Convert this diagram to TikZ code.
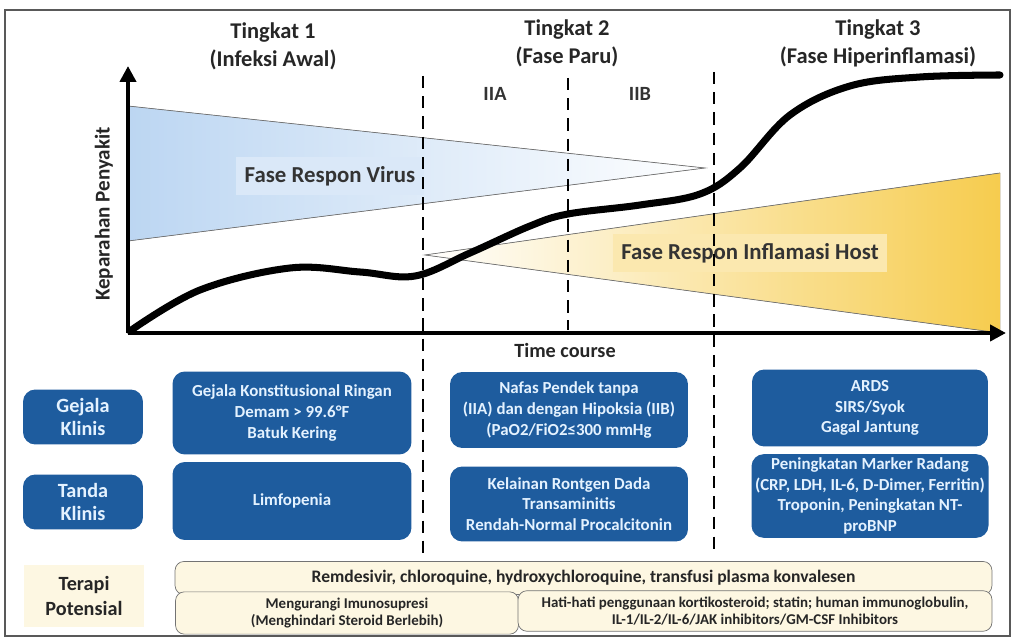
\documentclass[tikz,border=0pt]{standalone}
\usepackage{fontspec}
\setmainfont{Carlito}
\usetikzlibrary{arrows.meta,positioning,calc}
\definecolor{boxblue}{RGB}{30,92,158}
\definecolor{boxtext}{RGB}{228,242,255}
\definecolor{cream}{RGB}{253,247,226}
\definecolor{virusblue}{RGB}{188,214,242}
\definecolor{hostgold}{RGB}{246,204,78}

\begin{document}
\begin{tikzpicture}[
    x=0.02cm, y=-0.02cm,
    title/.style={font=\bfseries\fontsize{12.8}{16}\selectfont, align=center, text=black!85},
    clinic/.style={rectangle, rounded corners=7pt, fill=boxblue, text=boxtext, inner sep=2pt,
                   font=\bfseries\fontsize{9.6}{11.8}\selectfont, align=center},
    rowlabel/.style={clinic, font=\bfseries\fontsize{11.5}{13.5}\selectfont,
                     minimum width=2.4cm, minimum height=1.1cm},
    therapy/.style={rectangle, rounded corners=5pt, draw=black!55, fill=cream,
                    font=\bfseries\fontsize{10}{11}\selectfont, align=center, text=black!85},
    divider/.style={line width=1.1pt, dash pattern=on 7pt off 4.5pt},
    axis/.style={line width=2.8pt, -{Triangle[length=9pt,width=9pt]}},
    phase/.style={font=\bfseries\fontsize{13}{15}\selectfont, text=black!80, inner sep=5pt}
]
    \useasboundingbox (0,0) rectangle (1015,641);
    % Frame
    \draw[black!65, line width=0.8pt] (5,10) rectangle (1010,636);

    % Stages
    \node[title] (stage1) at (273,46) {Tingkat 1\\(Infeksi Awal)};
    \node[title] (stage2) at (567,43) {Tingkat 2\\(Fase Paru)};
    \node[title] (stage3) at (878,43) {Tingkat 3\\(Fase Hiperinflamasi)};
    \node[phase, font=\bfseries\fontsize{11.5}{13}\selectfont] (iia) at (495,94) {IIA};
    \node[phase, font=\bfseries\fontsize{11.5}{13}\selectfont] (iib) at (640,94) {IIB};

    % Phase wedges
    \fill[left color=virusblue, right color=white] (128,106) -- (705,168) -- (128,241) -- cycle;
    \draw[black!55, line width=0.4pt] (128,106) -- (705,168) -- (128,241);
    \fill[left color=white, middle color=hostgold!40, right color=hostgold] (425,255) -- (1000,173) -- (1000,333) -- cycle;
    \draw[black!55, line width=0.4pt] (1000,173) -- (425,255) -- (1000,333);
    \node[phase, fill=virusblue!55] (virus) at (330,176) {Fase Respon Virus};
    \node[phase, fill=hostgold!45] (host) at (750,253) {Fase Respon Inflamasi Host};

    % Dividers
    \draw[divider] (423,76) -- (423,555);
    \draw[divider] (568,78) -- (568,330);
    \draw[divider] (714,72) -- (714,555);

    % Severity curve
    \draw[line width=4pt, line cap=round] plot[smooth, tension=0.6] coordinates {
        (130,331) (200,290) (290,268) (360,272) (415,276) (470,253) (530,226)
        (568,214) (640,205) (700,194) (740,168) (790,115) (850,86) (920,77) (1000,75)};

    % Axes
    \coordinate (origin) at (128,333);
    \draw[axis] (origin) -- (128,66);
    \draw[axis] (origin) -- (1006,333);
    \node[font=\bfseries\fontsize{12}{14}\selectfont, text=black!85, rotate=90] (ylab) at (104,214) {Keparahan Penyakit};
    \node[font=\bfseries\fontsize{11.5}{13}\selectfont, text=black!85] (xlab) at (565,350) {Time course};

    % Clinical rows
    \node[rowlabel] (gejala) at (83,417) {Gejala\\Klinis};
    \node[rowlabel] (tanda) at (83,502) {Tanda\\Klinis};
    \node[clinic, minimum width=4.78cm, minimum height=1.66cm] (g1) at (292,413)
        {Gejala Konstitusional Ringan\\Demam > 99.6°F\\Batuk Kering};
    \node[clinic, minimum width=4.76cm, minimum height=1.52cm] (g2) at (569,410)
        {Nafas Pendek tanpa\\(IIA) dan dengan Hipoksia (IIB)\\(PaO2/FiO2≤300 mmHg};
    \node[clinic, minimum width=4.72cm, minimum height=1.54cm] (g3) at (870,408)
        {ARDS\\SIRS/Syok\\Gagal Jantung};
    \node[clinic, minimum width=4.78cm, minimum height=1.56cm] (t1) at (292,501)
        {Limfopenia};
    \node[clinic, minimum width=4.76cm, minimum height=1.5cm] (t2) at (569,504)
        {Kelainan Rontgen Dada\\Transaminitis\\Rendah-Normal Procalcitonin};
    \node[clinic, minimum width=4.72cm, minimum height=1.56cm] (t3) at (870,496)
        {Peningkatan Marker Radang\\(CRP, LDH, IL-6, D-Dimer, Ferritin)\\Troponin, Peningkatan NT-\\proBNP};

    % Therapy
    \node[rectangle, fill=cream, minimum width=2.4cm, minimum height=1.25cm, align=center,
          font=\bfseries\fontsize{11.5}{14}\selectfont, text=black!85] (terapi) at (84,596)
        {Terapi\\Potensial};
    \node[therapy, minimum width=16.34cm, minimum height=0.66cm] (drugs) at (583.5,578)
        {Remdesivir, chloroquine, hydroxychloroquine, transfusi plasma konvalesen};
    \node[therapy, font=\bfseries\fontsize{8.5}{10}\selectfont, minimum width=6.86cm, minimum height=0.66cm] (imun) at (347,613)
        {Mengurangi Imunosupresi\\(Menghindari Steroid Berlebih)};
    \node[therapy, font=\bfseries\fontsize{8.5}{10}\selectfont, minimum width=9.48cm, minimum height=0.74cm] (steroid) at (755,611)
        {Hati-hati penggunaan kortikosteroid; statin; human immunoglobulin,\\IL-1/IL-2/IL-6/JAK inhibitors/GM-CSF Inhibitors};
\end{tikzpicture}
\end{document}
